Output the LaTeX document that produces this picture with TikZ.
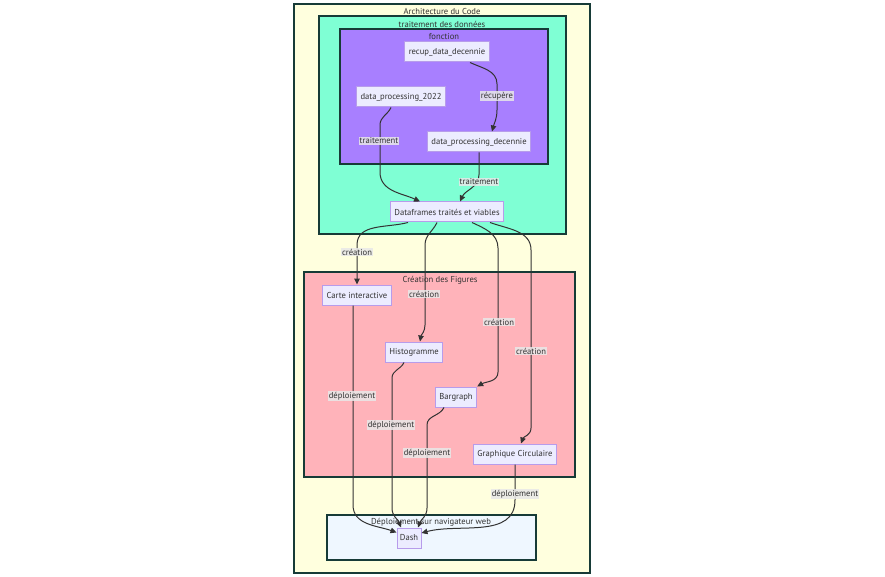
\documentclass[tikz,border=0pt]{standalone}
\usepackage{fontspec}
\setmainfont{PT Sans}
\usepackage{xcolor}
\usetikzlibrary{arrows.meta}
\definecolor{ink}{HTML}{333333}
\definecolor{frame}{HTML}{173B37}
\definecolor{cream}{HTML}{FFFFDE}
\definecolor{aqua}{HTML}{7FFFD4}
\definecolor{violet}{HTML}{A87FFF}
\definecolor{rose}{HTML}{FFB3BA}
\definecolor{alice}{HTML}{EFF7FF}
\definecolor{boxfill}{HTML}{ECECFF}
\definecolor{boxline}{HTML}{B79CEB}
\definecolor{labfill}{HTML}{E8E8E8}
\tikzset{
  cluster/.style={draw=frame, line width=2pt},
  ctitle/.style={text=ink, font=\fontsize{8.6}{9}\selectfont, inner sep=0pt},
  box/.style={draw=boxline, fill=boxfill, line width=1pt, text=ink, font=\fontsize{8.6}{9}\selectfont, minimum height=20pt, inner xsep=4pt},
  edge/.style={draw=ink, line width=1pt, -{Triangle[length=6pt,width=5.5pt]}},
  elab/.style={fill=labfill, fill opacity=0.85, text opacity=1, text=ink, font=\fontsize{8.6}{9}\selectfont, inner sep=1pt},
}
\begin{document}
\begin{tikzpicture}[x=1pt,y=1pt]
  \useasboundingbox (0,0) rectangle (885,-577);
  \fill[white] (0,0) rectangle (885,-577);
  % groups
  \draw[cluster, fill=cream] (294,-4) rectangle (590,-573);
  \draw[cluster, fill=aqua] (319,-16) rectangle (566,-234);
  \draw[cluster, fill=violet] (340,-29) rectangle (548,-164);
  \draw[cluster, fill=rose] (304,-272) rectangle (575,-477);
  \draw[cluster, fill=alice] (327,-515) rectangle (536,-560);
  \node[ctitle] at (442,-11) {Architecture du Code};
  \node[ctitle] at (442,-24) {traitement des données};
  \node[ctitle] at (444,-37) {fonction};
  \node[ctitle] at (440,-280) {Création des Figures};
  \node[ctitle] at (431,-522) {Déploiement sur navigateur web};
  % nodes
  \node[box] (recup) at (447,-52) {recup\_data\_decennie};
  \node[box] (p2022) at (401,-97) {data\_processing\_2022};
  \node[box] (pdec) at (479,-142) {data\_processing\_decennie};
  \node[box] (dataf) at (447,-212) {Dataframes traités et viables};
  \node[box] (carte) at (357,-295) {Carte interactive};
  \node[box] (histo) at (414,-352) {Histogramme};
  \node[box] (barg) at (456,-397) {Bargraph};
  \node[box] (graph) at (515,-454) {Graphique Circulaire};
  \node[box, minimum width=24pt, inner xsep=2pt] (dash) at (409,-538) {Dash};
  % edges
  \draw[edge] ([xshift=23pt]recup.south) to[out=-25,in=90] (497,-84) -- (497,-110) to[out=-90,in=75] ([xshift=13pt]pdec.north);
  \draw[edge] ([xshift=-10pt]p2022.south) to[out=-115,in=90] (380,-125) -- (380,-172) to[out=-90,in=155] ([xshift=-27pt]dataf.north);
  \draw[edge] (pdec.south) -- ++(0,-22) to[out=-90,in=65] ([xshift=13pt]dataf.north);
  \draw[edge] ([xshift=-39pt]dataf.south) to[out=-165,in=90] (357,-245) -- (carte.north);
  \draw[edge] ([xshift=-10pt]dataf.south) to[out=-115,in=90] (425,-245) -- (425,-325) to[out=-90,in=80] ([xshift=6pt]histo.north);
  \draw[edge] ([xshift=25pt]dataf.south) to[out=-25,in=90] (498,-248) -- (498,-372) to[out=-90,in=30] (barg.north east);
  \draw[edge] ([xshift=43pt]dataf.south) to[out=-20,in=90] (531,-250) -- (531,-428) to[out=-90,in=70] ([xshift=6pt]graph.north);
  \draw[edge] ([xshift=-4pt]carte.south) -- (353,-505) to[out=-90,in=160] ([yshift=-5pt]dash.north west);
  \draw[edge] ([xshift=-10pt]histo.south) to[out=-115,in=90] (392,-378) -- (392,-508) to[out=-90,in=110] ([xshift=-8pt]dash.north);
  \draw[edge] ([xshift=-12pt]barg.south) to[out=-115,in=90] (427,-425) -- (427,-508) to[out=-90,in=70] ([xshift=9pt]dash.north);
  \draw[edge] (graph.south) -- (515,-500) to[out=-90,in=15] ([yshift=5pt]dash.east);
  % edge labels
  \node[elab] at (497,-96) {récupère};
  \node[elab] at (379,-141) {traitement};
  \node[elab] at (479,-182) {traitement};
  \node[elab] at (357,-252) {création};
  \node[elab] at (424,-294) {création};
  \node[elab] at (499,-322) {création};
  \node[elab] at (531,-351) {création};
  \node[elab] at (352,-396) {déploiement};
  \node[elab] at (391,-425) {déploiement};
  \node[elab] at (427,-453) {déploiement};
  \node[elab] at (515,-494) {déploiement};
\end{tikzpicture}
\end{document}
